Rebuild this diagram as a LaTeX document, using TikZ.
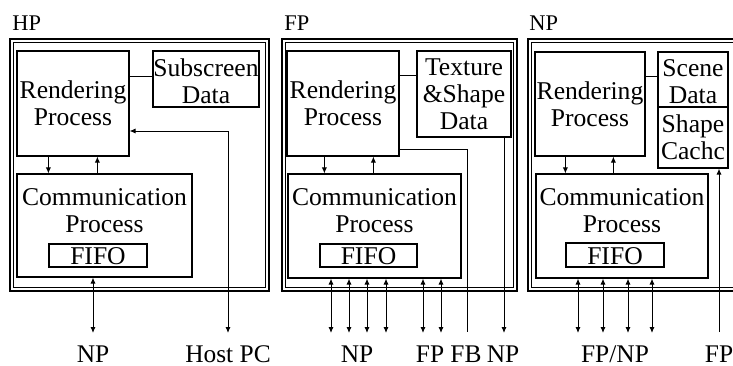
\documentclass[tikz,border=0pt]{standalone}
\usepackage{fontspec}
\setmainfont{Liberation Serif}
\usetikzlibrary{arrows.meta,fit}
\newcommand\boxfont{\fontsize{12.8}{13.6}\selectfont}
\newcommand\labfont{\fontsize{12.7}{14}\selectfont}
\newcommand\titfont{\fontsize{11.2}{12}\selectfont}
\begin{document}
\begin{tikzpicture}[x=0.5pt,y=-0.5pt,
  box/.style={draw, line width=0.6pt, inner sep=0pt},
  frameo/.style={draw, line width=0.75pt, inner sep=0pt},
  framei/.style={draw, line width=0.4pt, inner sep=0pt},
  txt/.style={inner sep=0pt, align=center, font=\boxfont},
  lab/.style={inner sep=0pt, font=\labfont},
  tit/.style={inner sep=0pt, font=\titfont, anchor=base west},
  conn/.style={line width=0.5pt},
  tip/.style={-{Latex[length=3pt,width=2.6pt]}},
  tips/.style={{Latex[length=3pt,width=2.6pt]}-{Latex[length=3pt,width=2.6pt]}}]
\clip (0,0) rectangle (733,365);

% ---------------- HP ----------------
\node[tit] (thp) at (12,30) {HP};
\node[frameo, fit={(10,39)(269,291)}] (hp) {};
\node[framei, fit={(13.5,42.5)(265.5,287.5)}] (hpi) {};
\node[box, fit={(17,51)(129,156)}] (hrp) {};
\node[txt] (hrpt) at (hrp.center) {Rendering\\Process};
\node[box, fit={(153,51)(259,107)}] (hsd) {};
\node[txt] (hsdt) at ([yshift=-1pt]hsd.center) {Subscreen\\Data};
\node[box, fit={(17,174)(192,277)}] (hcp) {};
\node[txt] (hcpt) at (104.5,211) {Communication\\Process};
\node[box, fit={(49,244)(147,267)}] (hfifo) {};
\node[txt] (hfifot) at ([yshift=-0.5pt]hfifo.center) {FIFO};
\coordinate (h1) at ([yshift=-13pt]hrp.north east);
\draw[conn] (h1) -- (h1 -| hsd.west);
\coordinate (h2) at ([xshift=16pt]hrp.south west);
\draw[conn,tip] (h2) -- (h2 |- hcp.north);
\coordinate (h3) at ([xshift=40.5pt]hrp.south west);
\draw[conn,tip] (h3 |- hcp.north) -- (h3);
\coordinate (hn) at (93,333);
\draw[conn,tips] (hn |- hcp.south) -- (hn);
\coordinate (hh) at (228,333);
\coordinate (hh2) at (228,131);
\draw[conn,tips] (hh) -- (hh2) -- (hh2 -| hrp.east);
\node[lab, anchor=base] (lhn) at (93,362) {NP};
\node[lab, anchor=base] (lhh) at (228,362) {Host PC};

% ---------------- FP ----------------
\node[tit] (tfp) at (284,30) {FP};
\node[frameo, fit={(282,39)(517,291)}] (fp) {};
\node[framei, fit={(285.5,42.5)(513.5,287.5)}] (fpi) {};
\node[box, fit={(287,51)(399,156)}] (frp) {};
\node[txt] (frpt) at (frp.center) {Rendering\\Process};
\node[box, fit={(417,51)(511,137)}] (ftsd) {};
\node[txt] (ftsdt) at (ftsd.center) {Texture\\\&Shape\\Data};
\node[box, fit={(288,174)(461,278)}] (fcp) {};
\node[txt] (fcpt) at (374.5,211) {Communication\\Process};
\node[box, fit={(320,244)(417,267)}] (ffifo) {};
\node[txt] (ffifot) at ([yshift=-0.5pt]ffifo.center) {FIFO};
\coordinate (f1) at ([yshift=-12.5pt]frp.north east);
\draw[conn] (f1) -- (f1 -| ftsd.west);
\coordinate (f2) at ([xshift=19pt]frp.south west);
\draw[conn,tip] (f2) -- (f2 |- fcp.north);
\coordinate (f3) at ([xshift=43.5pt]frp.south west);
\draw[conn,tip] (f3 |- fcp.north) -- (f3);
\foreach \x [count=\i] in {331,349,367,386,423,441} {
  \coordinate (fb\i) at (\x,333);
  \draw[conn,tips] (fb\i |- fcp.south) -- (fb\i);
}
\coordinate (f4) at ([yshift=3.5pt]frp.south east);
\coordinate (ffb) at (467,332);
\draw[conn] (f4) -| (ffb);
\coordinate (fn) at (504,333);
\draw[conn,tip] (fn |- ftsd.south) -- (fn);
\node[lab, anchor=base] (lfn1) at (357,362) {NP};
\node[lab, anchor=base] (lff) at (430,362) {FP};
\node[lab, anchor=base] (lfb) at (466,362) {FB};
\node[lab, anchor=base] (lfn2) at (503,362) {NP};

% ---------------- NP ----------------
\node[tit] (tnp) at (529,30) {NP};
\node[frameo, fit={(528,39)(765,291)}] (np) {};
\node[framei, fit={(531.5,42.5)(761,287.5)}] (npi) {};
\node[box, fit={(535,52)(645,156)}] (nrp) {};
\node[txt] (nrpt) at (nrp.center) {Rendering\\Process};
\node[box, fit={(658,52)(728,107)}] (nsd) {};
\node[txt] (nsdt) at ([yshift=-1pt]nsd.center) {Scene\\Data};
\node[box, fit={(658,107)(728,168)}] (nsc) {};
\node[txt] (nsct) at (nsc.center) {Shape\\Cachc};
\node[box, fit={(536,174)(708,278)}] (ncp) {};
\node[txt] (ncpt) at (622,211) {Communication\\Process};
\node[box, fit={(566,243)(664,267)}] (nfifo) {};
\node[txt] (nfifot) at ([yshift=-0.5pt]nfifo.center) {FIFO};
\coordinate (n1) at ([yshift=-12.5pt]nrp.north east);
\draw[conn] (n1) -- (n1 -| nsd.west);
\coordinate (n2) at ([xshift=15.5pt]nrp.south west);
\draw[conn,tip] (n2) -- (n2 |- ncp.north);
\coordinate (n3) at ([xshift=39.5pt]nrp.south west);
\draw[conn,tip] (n3 |- ncp.north) -- (n3);
\foreach \x [count=\i] in {578,603,628,652} {
  \coordinate (nb\i) at (\x,333);
  \draw[conn,tips] (nb\i |- ncp.south) -- (nb\i);
}
\coordinate (nf) at (719,332);
\draw[conn,tip] (nf) -- (nf |- nsc.south);
\node[lab, anchor=base] (lnfn) at (615,362) {FP/NP};
\node[lab, anchor=base] (lnf) at (719,362) {FP};
\end{tikzpicture}
\end{document}
